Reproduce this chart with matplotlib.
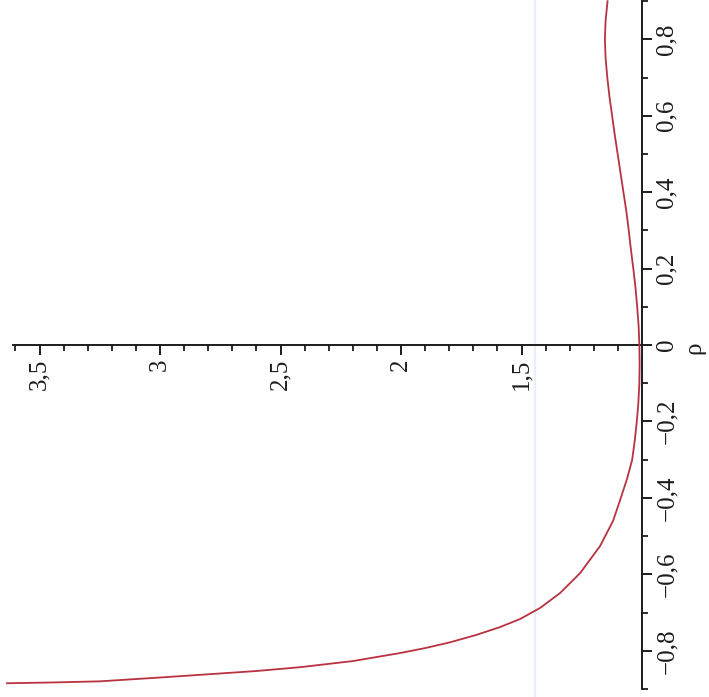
import numpy as np
import matplotlib.pyplot as plt
from matplotlib.ticker import FixedLocator

plt.rcParams['font.family'] = ['Liberation Serif', 'DejaVu Serif']

rho = [-0.885, -0.883, -0.880, -0.870, -0.863, -0.853, -0.843, -0.827, -0.806,
       -0.793, -0.778, -0.759, -0.738, -0.717, -0.688, -0.649, -0.597, -0.526,
       -0.460, -0.406, -0.350, -0.301, -0.250, -0.196, -0.150, -0.100, -0.050,
       0.0, 0.05, 0.10, 0.15, 0.20, 0.25, 0.30, 0.35, 0.40, 0.45, 0.50, 0.55,
       0.60, 0.65, 0.70, 0.75, 0.80, 0.85, 0.90]
value = [3.635, 3.450, 3.249, 3.000, 2.834, 2.600, 2.419, 2.200, 2.004,
         1.900, 1.797, 1.690, 1.589, 1.506, 1.423, 1.340, 1.257, 1.174,
         1.120, 1.091, 1.062, 1.041, 1.030, 1.021, 1.015, 1.011, 1.010,
         1.011, 1.014, 1.020, 1.027, 1.036, 1.046, 1.055, 1.065, 1.077, 1.089,
         1.101, 1.113, 1.124, 1.135, 1.144, 1.151, 1.154, 1.151, 1.143]

value_ticks = [1.5, 2.0, 2.5, 3.0, 3.5]
value_labels = ['1,5', '2', '2,5', '3', '3,5']
value_minor = [round(1.1 + 0.1 * i, 1) for i in range(26)]
rho_ticks = [-0.8, -0.6, -0.4, -0.2, 0.0, 0.2, 0.4, 0.6, 0.8]
rho_labels = ['\u22120,8', '\u22120,6', '\u22120,4', '\u22120,2', '0',
              '0,2', '0,4', '0,6', '0,8']
rho_minor = [-0.9, -0.7, -0.5, -0.3, -0.1, 0.1, 0.3, 0.5, 0.7, 0.9]

fig = plt.figure(figsize=(7.09, 6.97), dpi=100)
ax = fig.add_axes([0, 0, 1, 1])
ax.set_xlim(3.664, 0.722)   # inverted, page is rotated
ax.set_ylim(-0.921, 0.903)

# faint scanner streak
ax.axvline(1.444, color='#e6f0f7', lw=1.6, zorder=0)

ax.plot(value, rho, color='#b8323f', lw=1.3, zorder=3)

# axes through the origin (value=1, rho=0)
ink = '#1c1c1c'
ax.spines['top'].set_visible(False)
ax.spines['left'].set_visible(False)
ax.spines['right'].set_position(('data', 1.0))
ax.spines['right'].set_bounds(-0.9, 0.903)
ax.spines['bottom'].set_position(('data', 0.0))
ax.spines['bottom'].set_bounds(1.0, 3.61)
for s in ('right', 'bottom'):
    ax.spines[s].set_linewidth(1.4)
    ax.spines[s].set_color(ink)

ax.yaxis.tick_right()
ax.xaxis.set_major_locator(FixedLocator(value_ticks))
ax.xaxis.set_minor_locator(FixedLocator(value_minor))
ax.yaxis.set_major_locator(FixedLocator(rho_ticks))
ax.yaxis.set_minor_locator(FixedLocator(rho_minor))
ax.set_xticklabels(value_labels)
ax.set_yticklabels(rho_labels)

ax.tick_params(which='major', length=7, width=1.4, color=ink, direction='out',
               labelsize=18, labelcolor=ink, pad=3)
ax.tick_params(which='minor', length=4, width=1.3, color=ink, direction='out')
ax.tick_params(axis='x', labelrotation=90)
ax.tick_params(axis='y', labelrotation=90)
plt.setp(ax.get_yticklabels(), va='center')

ax.text(0.784, -0.008, 'ρ', rotation=90, ha='center', va='center',
        fontsize=18, color=ink)

fig.savefig('out.png', dpi=100, facecolor='white')
